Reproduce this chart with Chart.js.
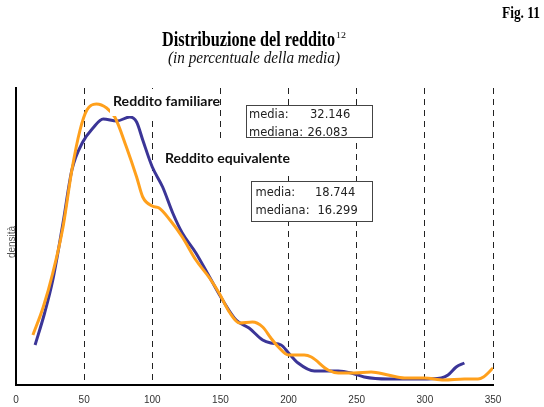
<!DOCTYPE html>
<html>
<head>
<meta charset="utf-8">
<script src="https://cdn.jsdelivr.net/npm/chart.js@4/dist/chart.umd.min.js"></script>
<style>
html,body{margin:0;padding:0;background:#fff;}
canvas{display:block;}
</style>
</head>
<body>
<canvas id="c" width="544" height="407"></canvas>
<script>
// Reddito familiare (orange)
const famX = [12.4, 20, 27, 34.5, 41, 47, 52, 59, 66.5, 72.5, 81, 88.5, 93, 100, 105, 113, 122, 132, 142, 149, 157, 164, 173.5, 181, 187, 192.5, 200, 211.5, 216.7, 229, 236.5, 248, 260.6, 273, 285, 299.5, 314, 329, 339, 343, 350];
const famY = [50, 78, 112, 158, 215, 255, 275, 281, 277, 268, 238, 208, 188, 179, 177, 165, 148, 125, 107, 92, 72, 62, 63, 58, 47, 38, 30, 30, 28, 15, 12, 12, 13, 10, 7, 7, 5, 6, 6, 8, 17];
// Reddito equivalente (blue)
const eqX = [14, 21, 27, 34.5, 41, 49, 56.5, 64, 74, 83.5, 88.5, 93, 100, 107.6, 115, 122, 132, 142, 151.6, 161.5, 171, 181, 187, 194.5, 200, 207, 219, 236.5, 246, 255.5, 273, 297, 312, 317, 323, 329];
const eqY = [40, 72, 105, 162, 215, 243, 257, 266, 264, 268, 263, 245, 218, 198, 172, 152, 132, 108, 85, 65, 57, 45, 42, 40, 32, 22, 14, 14, 12, 8, 6, 6, 7, 10, 18, 22];

const xTicks = [0, 50, 100, 150, 200, 250, 300, 350];

const titleText = "Distribuzione del reddito";
const titleSup = "12";
const subtitleText = "(in percentuale della media)";
const figText = "Fig. 11";
const yLabel = "densità";
const famLabel = "Reddito familiare";
const eqLabel = "Reddito equivalente";
const famStats = [["media:", "32.146"], ["mediana:", "26.083"]];
const eqStats = [["media:", "18.744"], ["mediana:", "16.299"]];

function pts(xs, ys){ return xs.map((x,i)=>({x:x, y:ys[i]})); }

function fitText(ctx, text, x, y, font, width, align, color){
  ctx.save();
  ctx.font = font;
  ctx.fillStyle = color || '#000';
  ctx.textBaseline = 'alphabetic';
  const w = ctx.measureText(text).width;
  const s = width ? width / w : 1;
  ctx.translate(x, y);
  ctx.scale(s, 1);
  ctx.textAlign = align || 'left';
  ctx.fillText(text, 0, 0);
  ctx.restore();
}

const overlay = {
  id: 'overlay',
  afterDatasetsDraw(chart){
    const ctx = chart.ctx;
    // title block
    fitText(ctx, titleText, 162, 46, 'bold 20px "Liberation Serif"', 173, 'left', '#000');
    fitText(ctx, titleSup, 336, 38, '9px "Liberation Serif"', 10, 'left', '#000');
    fitText(ctx, subtitleText, 168, 63, 'italic 16px "Liberation Serif"', 172, 'left', '#111');
    fitText(ctx, figText, 502, 18, 'bold 16px "Liberation Serif"', 38, 'left', '#000');

    // y label
    ctx.save();
    ctx.translate(15, 242);
    ctx.rotate(-Math.PI/2);
    ctx.font = '10px "Liberation Sans"';
    ctx.fillStyle = '#555';
    ctx.textAlign = 'center';
    ctx.fillText(yLabel, 0, 0);
    ctx.restore();

    // label backgrounds
    ctx.fillStyle = '#fff';
    ctx.fillRect(110, 89, 110, 27);
    ctx.fillRect(160, 142, 132, 30);
    fitText(ctx, famLabel, 113, 106, 'bold 14px "Lato"', 107, 'left', '#111');
    fitText(ctx, eqLabel, 165, 163, 'bold 14px "Lato"', 125, 'left', '#111');

    // stat boxes
    function box(x, y, w, h, rows, lx, vxl, b1, b2){
      ctx.save();
      ctx.fillStyle = '#fff';
      ctx.fillRect(x, y, w, h);
      ctx.strokeStyle = '#444';
      ctx.lineWidth = 1;
      ctx.strokeRect(x + 0.5, y + 0.5, w, h);
      ctx.restore();
      const bases = [b1, b2];
      rows.forEach((r, i) => {
        fitText(ctx, r[0], lx, bases[i], '11.5px "DejaVu Sans"', null, 'left', '#222');
        fitText(ctx, r[1], vxl[i], bases[i], '11.5px "DejaVu Sans"', null, 'left', '#222');
      });
    }
    box(246, 105, 126, 32, famStats, 249, [310, 307.5], 118, 136);
    box(251, 181, 121, 40, eqStats, 255.5, [315, 317.5], 196, 214);
  }
};

new Chart(document.getElementById('c'), {
  type: 'line',
  data: {
    datasets: [
      { label: famLabel, data: pts(famX, famY), borderColor: '#FFA01C', borderWidth: 3,
        pointRadius: 0, cubicInterpolationMode: 'monotone', fill: false },
      { label: eqLabel, data: pts(eqX, eqY), borderColor: '#3B3597', borderWidth: 3,
        pointRadius: 0, cubicInterpolationMode: 'monotone', fill: false }
    ]
  },
  options: {
    responsive: false,
    devicePixelRatio: 1,
    animation: false,
    layout: { padding: { top: 88, right: 51, bottom: 0, left: 0 } },
    plugins: { legend: { display: false }, tooltip: { enabled: false }, title: { display: false } },
    scales: {
      x: {
        type: 'linear', min: 0, max: 350,
        afterBuildTicks(scale){ scale.ticks = xTicks.map(v => ({ value: v })); },
        afterFit(scale){ scale.height = 22; },
        ticks: { font: { family: 'Liberation Sans', size: 10 }, color: '#333', padding: 9, maxRotation: 0 },
        grid: {
          drawTicks: false,
          lineWidth: 1,
          color: (c) => (c.tick && c.tick.value === 0) ? 'rgba(0,0,0,0)' : '#222'
        },
        border: { display: true, color: '#000', width: 2, dash: [6, 5] }
      },
      y: {
        min: 0, max: 297,
        afterFit(scale){ scale.width = 16; },
        ticks: { display: false },
        grid: { display: false, drawTicks: false },
        border: { display: true, color: '#000', width: 2 }
      }
    }
  },
  plugins: [overlay]
});
</script>
</body>
</html>
